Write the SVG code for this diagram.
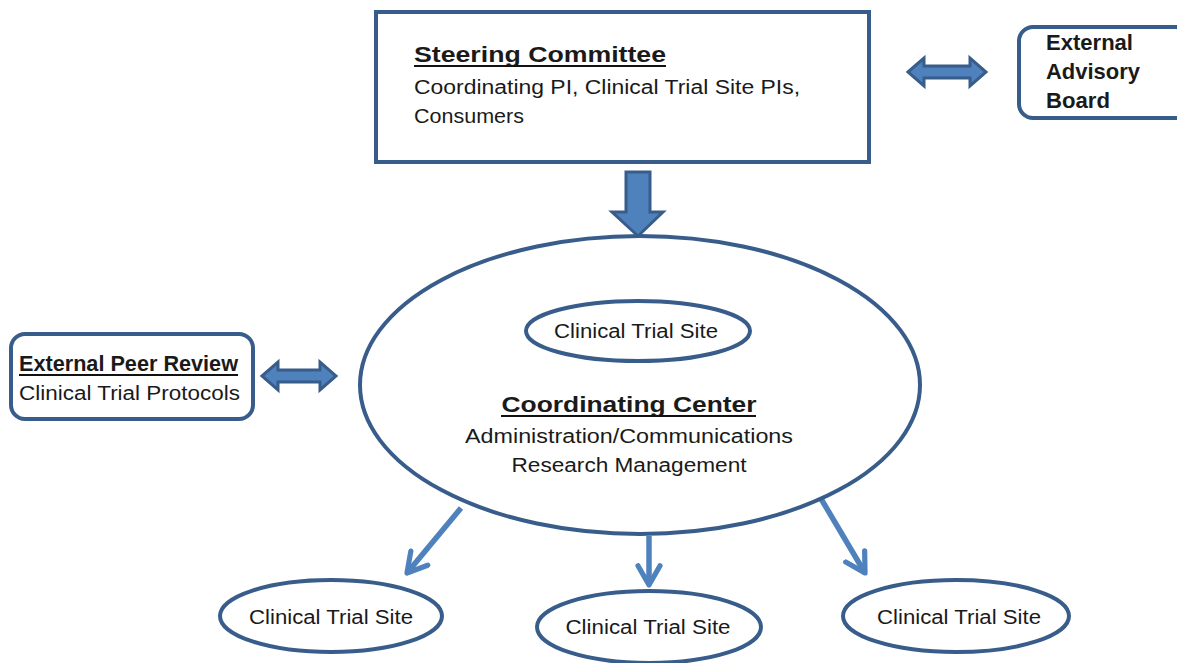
<svg xmlns="http://www.w3.org/2000/svg" width="1177" height="663" viewBox="0 0 1177 663">
<style>
.box{fill:#fff;stroke:#385d8a;stroke-width:4}
.blk{fill:#4f81bd;stroke:#385d8a;stroke-width:3;stroke-linejoin:miter}
.conn{stroke:#4f81bd;stroke-width:5.5;fill:none}
.t{font-family:"Liberation Sans",Arial,sans-serif;font-size:20px;fill:#1a1a1a}
.b{font-weight:bold;font-size:22px}
.ul{stroke:#111;stroke-width:2}
</style>
<defs>
<marker id="ah" viewBox="0 0 10 10" refX="8" refY="5" markerWidth="5" markerHeight="5" orient="auto" markerUnits="strokeWidth">
<polyline points="1,1 8,5 1,9" fill="none" stroke="#4f81bd" stroke-width="1.9" stroke-linecap="round" stroke-linejoin="round"/>
</marker>
</defs>
<g id="connectors">
<polygon class="blk" points="626,172 650,172 650,212 663,212 638,236 612,212 626,212"/>
<polygon class="blk" points="908,72 924,58 924,66 970,66 970,58 986,72 970,86 970,78 924,78 924,86"/>
<polygon class="blk" points="262,376 278,362 278,370 320,370 320,362 336,376 320,390 320,382 278,382 278,390"/>
<line class="conn" x1="461" y1="508" x2="407" y2="573" marker-end="url(#ah)"/>
<line class="conn" x1="649" y1="536" x2="649" y2="585" marker-end="url(#ah)"/>
<line class="conn" x1="820" y1="497" x2="865" y2="573" marker-end="url(#ah)"/>
</g>
<g id="steering">
<rect class="box" x="376" y="12" width="493" height="150"/>
<text class="t b" x="414" y="62" textLength="252" lengthAdjust="spacingAndGlyphs">Steering Committee</text>
<line class="ul" x1="414" y1="66" x2="666" y2="66"/>
<text class="t" x="414" y="94" textLength="386" lengthAdjust="spacingAndGlyphs">Coordinating PI, Clinical Trial Site PIs,</text>
<text class="t" x="414" y="123" textLength="110" lengthAdjust="spacingAndGlyphs">Consumers</text>
</g>
<g id="advisory">
<rect class="box" x="1019" y="27" width="170" height="91" rx="14"/>
<text class="t b" x="1046" y="50" font-size="21" textLength="87" lengthAdjust="spacingAndGlyphs">External</text>
<text class="t b" x="1046" y="79" font-size="21" textLength="94" lengthAdjust="spacingAndGlyphs">Advisory</text>
<text class="t b" x="1046" y="108" font-size="21" textLength="64" lengthAdjust="spacingAndGlyphs">Board</text>
</g>
<g id="peer">
<rect class="box" x="11" y="334" width="242" height="85" rx="14"/>
<text class="t b" x="19" y="371" font-size="21" textLength="219" lengthAdjust="spacingAndGlyphs">External Peer Review</text>
<line class="ul" x1="19" y1="375" x2="238" y2="375"/>
<text class="t" x="19" y="400" textLength="221" lengthAdjust="spacingAndGlyphs">Clinical Trial Protocols</text>
</g>
<g id="center">
<ellipse class="box" cx="640" cy="385" rx="280" ry="149"/>
<text class="t b" x="629" y="412" text-anchor="middle" font-size="24" textLength="255" lengthAdjust="spacingAndGlyphs">Coordinating Center</text>
<line class="ul" x1="501" y1="416" x2="756" y2="416"/>
<text class="t" x="629" y="443" text-anchor="middle" textLength="328" lengthAdjust="spacingAndGlyphs">Administration/Communications</text>
<text class="t" x="629" y="472" text-anchor="middle" textLength="235" lengthAdjust="spacingAndGlyphs">Research Management</text>
</g>
<g id="inner-site">
<ellipse class="box" cx="638" cy="331" rx="112" ry="30"/>
<text class="t" x="636" y="338" text-anchor="middle" textLength="164" lengthAdjust="spacingAndGlyphs">Clinical Trial Site</text>
</g>
<g id="site-left">
<ellipse class="box" cx="331" cy="616" rx="111" ry="36"/>
<text class="t" x="331" y="624" text-anchor="middle" textLength="164" lengthAdjust="spacingAndGlyphs">Clinical Trial Site</text>
</g>
<g id="site-mid">
<ellipse class="box" cx="649" cy="627" rx="112" ry="36"/>
<text class="t" x="648" y="634" text-anchor="middle" textLength="165" lengthAdjust="spacingAndGlyphs">Clinical Trial Site</text>
</g>
<g id="site-right">
<ellipse class="box" cx="956" cy="616" rx="113" ry="36"/>
<text class="t" x="959" y="624" text-anchor="middle" textLength="164" lengthAdjust="spacingAndGlyphs">Clinical Trial Site</text>
</g>
</svg>
